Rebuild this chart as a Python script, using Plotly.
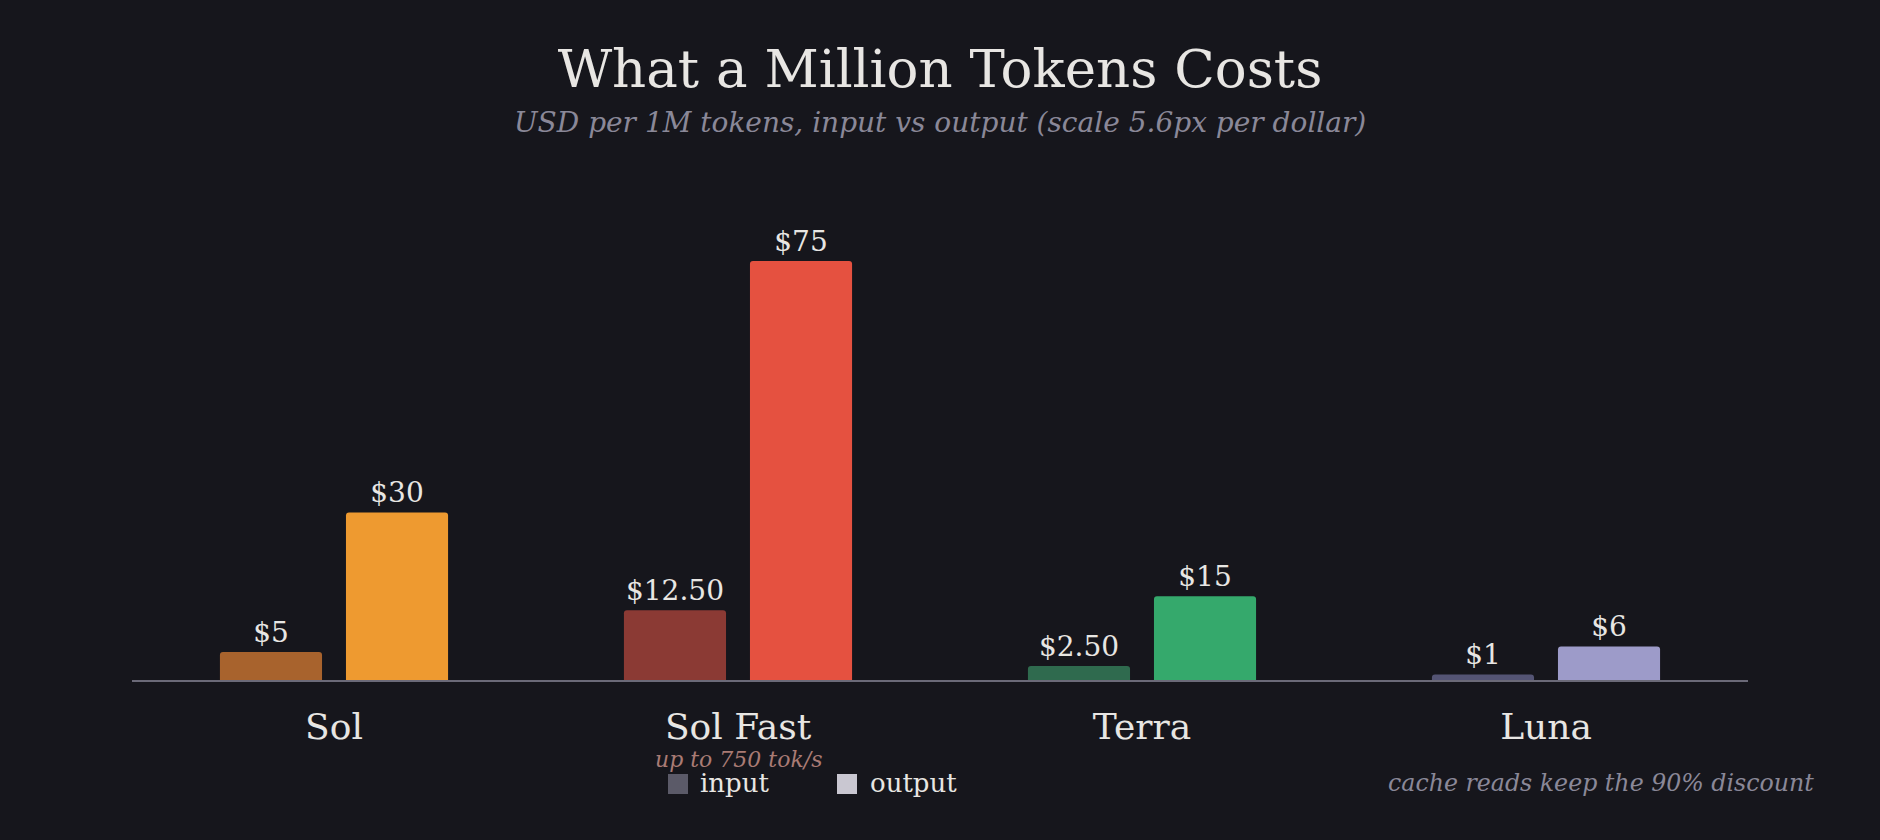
import plotly.graph_objects as go

# ---- data ----
models = ["Sol", "Sol Fast", "Terra", "Luna"]
input_price = [5, 12.5, 2.5, 1]
output_price = [30, 75, 15, 6]

# ---- styles ----
input_colors = ["#a8632d", "#8b3a34", "#2f6a4e", "#545474"]
output_colors = ["#ee9a30", "#e55140", "#35a96c", "#9d9bc9"]
BG = "#16161c"
TXT = "#e8e6e3"
FONT = "DejaVu Serif"

W, H = 1880, 840
ML, MR, MT, MB = 132, 132, 233, 160
PW = W - ML - MR
PH = H - MT - MB


def fmt(v):
    return f"${v:g}" if float(v).is_integer() else f"${v:.2f}"


def py(ypix):
    return (H - MB - ypix) / PH


def px(xpix):
    return (xpix - ML) / PW


fig = go.Figure()
fig.add_trace(go.Bar(
    x=models, y=input_price, name="input",
    marker=dict(color=input_colors, line=dict(width=0)),
    text=[fmt(v) for v in input_price], textposition="outside",
    textfont=dict(family=FONT, size=28, color=TXT),
    cliponaxis=False, showlegend=False, hoverinfo="skip",
))
fig.add_trace(go.Bar(
    x=models, y=output_price, name="output",
    marker=dict(color=output_colors, line=dict(width=0)),
    text=[fmt(v) for v in output_price], textposition="outside",
    textfont=dict(family=FONT, size=28, color=TXT),
    cliponaxis=False, showlegend=False, hoverinfo="skip",
))

annotations = [
    dict(text="USD per 1M tokens, input vs output (scale 5.6px per dollar)",
         xref="paper", yref="paper", x=0.5, y=py(122), xanchor="center", yanchor="middle",
         showarrow=False, font=dict(family=FONT, size=28, color="#8a8898", style="italic")),
    dict(text="up to 750 tok/s", xref="x", yref="paper", x="Sol Fast", y=py(759),
         xanchor="center", yanchor="middle", showarrow=False, borderpad=0,
         font=dict(family=FONT, size=22, color="#a97b74", style="italic")),
    dict(text="cache reads keep the 90% discount", xref="paper", yref="paper",
         x=px(1816), y=py(783), xanchor="right", yanchor="middle", showarrow=False,
         font=dict(family=FONT, size=23.7, color="#8a8898", style="italic")),
    dict(text="input", xref="paper", yref="paper", x=px(699), y=py(783),
         xanchor="left", yanchor="middle", showarrow=False, borderpad=0,
         font=dict(family=FONT, size=26, color=TXT)),
    dict(text="output", xref="paper", yref="paper", x=px(869), y=py(783),
         xanchor="left", yanchor="middle", showarrow=False, borderpad=0,
         font=dict(family=FONT, size=26, color=TXT)),
]

shapes = [
    dict(type="rect", xref="paper", yref="paper", x0=px(668), x1=px(688),
         y0=py(794), y1=py(774), fillcolor="#5b5a68", line=dict(width=0)),
    dict(type="rect", xref="paper", yref="paper", x0=px(837), x1=px(857),
         y0=py(794), y1=py(774), fillcolor="#c9c7d1", line=dict(width=0)),
]

fig.update_layout(
    width=W, height=H,
    paper_bgcolor=BG, plot_bgcolor=BG,
    margin=dict(l=ML, r=MR, t=MT, b=MB, autoexpand=False),
    barmode="group", bargap=0.376, bargroupgap=0.19, barcornerradius=3,
    title=dict(text="What a Million Tokens Costs", x=0.5, xanchor="center",
               y=1 - 68 / H, yanchor="middle",
               font=dict(family=FONT, size=53, color=TXT)),
    xaxis=dict(showline=True, linecolor="#6b6a78", linewidth=2, showgrid=False,
               zeroline=False, ticks="", ticklabelstandoff=14,
               tickfont=dict(family=FONT, size=36, color=TXT), fixedrange=True),
    yaxis=dict(range=[0, 80], visible=False, showgrid=False, zeroline=False, fixedrange=True),
    annotations=annotations, shapes=shapes,
    showlegend=False,
)

fig.write_html("out.html")
